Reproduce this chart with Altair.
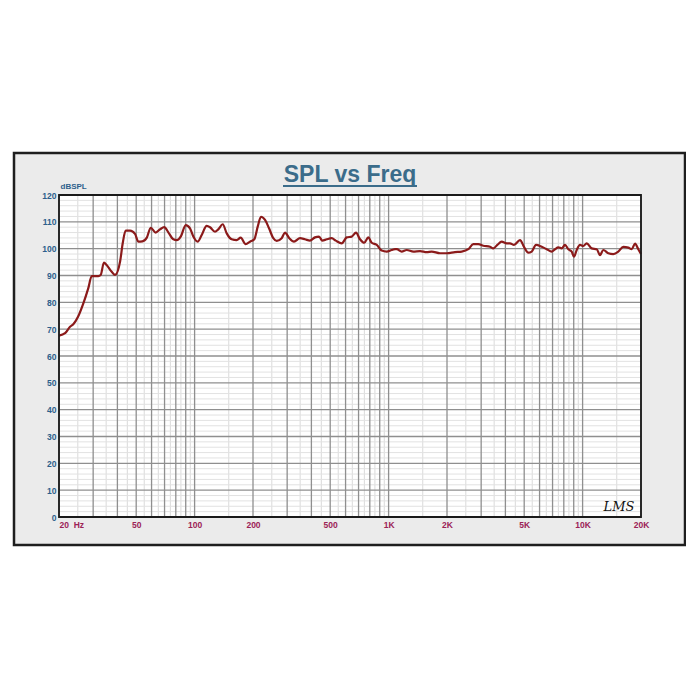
import altair as alt
import pandas as pd

# ---- data ----
freq = [20, 21.5, 22.8, 23.7, 25.1, 26.7, 28.3, 29.5, 31.9, 32.8, 34.1, 35.2, 37.4, 38.9,
        41.3, 42.6, 44.1, 46.5, 49.3, 51.3, 53.8, 56.7, 59.4, 63.0, 66.3, 69.8, 73.2, 77.7,
        80.9, 85.1, 90.0, 94.7, 98.5, 103.7, 108.8, 115.4, 120.1, 127.4, 132.5, 139.6, 146.4,
        155.3, 164.8, 172.9, 183.4, 193.0, 203.1, 211.5, 219.9, 230.7, 241.9, 254.5, 265.0,
        281.1, 292.4, 307.7, 325.4, 349.4, 370.7, 393.3, 417.4, 437.8, 455.3, 479.8, 509.1,
        533.8, 573.3, 608.2, 645.5, 679.2, 712.2, 749.5, 786.0, 818.5, 868.4, 921.4, 977.8,
        1037, 1079, 1101, 1168, 1240, 1341, 1452, 1573, 1668, 1840, 1993, 2199, 2382, 2576,
        2734, 2900, 3078, 3332, 3466, 3634, 3828, 4062, 4224, 4430, 4756, 4988, 5250, 5466,
        5752, 6154, 6530, 6930, 7208, 7496, 7804, 8116, 8440, 8788, 9030, 9326, 9698, 10086,
        10500, 11142, 11820, 12296, 12788, 13568, 14396, 15276, 16210, 17202, 17912, 18628,
        19370, 20000]
spl = [67.6, 68.5, 70.9, 71.8, 74.7, 79.6, 85.2, 89.8, 89.8, 90.2, 94.8, 93.9, 91.4, 90.2,
       95.2, 102.0, 106.7, 106.7, 105.5, 102.6, 102.7, 104.1, 107.8, 106.0, 107.2, 108.0, 106.1,
       103.5, 103.2, 104.7, 108.8, 107.6, 104.5, 102.6, 105.1, 108.5, 108.0, 106.3, 107.2, 109.1,
       105.7, 103.5, 103.2, 104.1, 101.7, 102.6, 103.5, 108.2, 111.9, 110.7, 107.6, 103.9, 102.9,
       103.9, 106.0, 103.9, 102.6, 103.9, 103.5, 103.0, 104.2, 104.5, 103.0, 103.5, 103.9,
       103.0, 102.0, 104.2, 104.5, 106.0, 103.5, 102.2, 104.2, 102.2, 101.4, 99.3, 98.9,
       99.5, 99.8, 99.8, 98.9, 99.5, 98.9, 99.1, 98.7, 98.9, 98.3, 98.3, 98.7, 98.9, 99.8,
       101.7, 101.7, 101.1, 100.7, 100.1, 101.4, 102.6, 102.0, 102.0, 101.4, 103.2, 100.7,
       98.5, 98.9, 101.4, 100.7, 99.8, 98.9, 99.8, 100.5, 100.1, 101.4, 99.8, 98.9, 97.0,
       99.5, 101.4, 101.0, 102.0, 100.1, 99.8, 97.6, 99.5, 98.3, 98.0, 98.9, 100.7, 100.4,
       99.8, 101.9, 99.8, 98.0]

x_major = [20, 30, 40, 50, 60, 70, 80, 90, 100, 200, 300, 400, 500, 600, 700, 800, 900,
           1000, 2000, 3000, 4000, 5000, 6000, 7000, 8000, 9000, 10000, 20000]
x_minor = [25, 35, 45, 55, 65, 75, 85, 95, 150, 250, 350, 450, 550, 650, 750, 850, 950,
           1500, 2500, 3500, 4500, 5500, 6500, 7500, 8500, 9500, 15000]
y_major = [10, 20, 30, 40, 50, 60, 70, 80, 90, 100, 110]
y_minor = [2, 4, 6, 8, 12, 14, 16, 18, 22, 24, 26, 28, 32, 34, 36, 38, 42, 44, 46, 48,
           52, 54, 56, 58, 62, 64, 66, 68, 72, 74, 76, 78, 82, 84, 86, 88, 92, 94, 96, 98,
           102, 104, 106, 108, 112, 114, 116, 118]
x_ticks = [20, 50, 100, 200, 500, 1000, 2000, 5000, 10000, 20000]
y_ticks = [0, 10, 20, 30, 40, 50, 60, 70, 80, 90, 100, 110, 120]

FONT = "Liberation Sans"
BLUE = "#2d5f8c"
MAROON = "#9c2256"
TITLE_BLUE = "#3b6c8a"
LINE = "#8b1a1a"

xs = alt.Scale(type="log", domain=[20, 20000], nice=False)
ys = alt.Scale(domain=[0, 120], nice=False)

AX = alt.Axis(
    values=x_ticks, title="", grid=False, domain=False, ticks=False, zindex=1,
    labelExpr="datum.value == 20 ? '20\u00a0\u00a0Hz' : (datum.value >= 1000 ? (datum.value/1000) + 'K' : datum.value)",
    labelAlign=alt.condition("datum.value == 20", alt.value("left"), alt.value("center")),
    labelColor=MAROON, labelFont=FONT, labelFontSize=8.5, labelFontWeight="bold",
    labelPadding=3, labelFlush=False, labelOverlap=False)
AY = alt.Axis(
    values=y_ticks, grid=False, domain=False, ticks=False, zindex=1,
    labelColor=BLUE, labelFont=FONT, labelFontSize=8.5, labelFontWeight="bold",
    labelPadding=3, labelFlush=False, labelOverlap=False,
    title="dBSPL", titleAngle=0, titleX=1, titleY=-5, titleAlign="left",
    titleBaseline="bottom", titleColor=BLUE, titleFont=FONT, titleFontSize=8,
    titleFontWeight="bold")

one = pd.DataFrame({"k": [0]})
curve = pd.DataFrame({"f": freq, "spl": spl})

outer = alt.Chart(one).mark_rect(fill="#ebebeb", stroke="#1e1e1e", strokeWidth=2.5).encode(
    x=alt.value(-45), x2=alt.value(626), y=alt.value(-42), y2=alt.value(350))

plotbg = alt.Chart(one).mark_rect(fill="white").encode(
    x=alt.datum(20, scale=xs, axis=AX), x2=alt.datum(20000),
    y=alt.datum(0, scale=ys, axis=AY), y2=alt.datum(120))

vminor = alt.Chart(pd.DataFrame({"f": x_minor})).mark_rule(color="#dadada", strokeWidth=1).encode(
    x=alt.X("f:Q", scale=xs, axis=AX), y=alt.datum(0, scale=ys, axis=AY), y2=alt.datum(120))
hminor = alt.Chart(pd.DataFrame({"v": y_minor})).mark_rule(color="#e2e2e2", strokeWidth=1).encode(
    y=alt.Y("v:Q", scale=ys, axis=AY), x=alt.datum(20, scale=xs, axis=AX), x2=alt.datum(20000))
vmajor = alt.Chart(pd.DataFrame({"f": x_major})).mark_rule(color="#8f8f8f", strokeWidth=1.3).encode(
    x=alt.X("f:Q", scale=xs, axis=AX), y=alt.datum(0, scale=ys, axis=AY), y2=alt.datum(120))
hmajor = alt.Chart(pd.DataFrame({"v": y_major})).mark_rule(color="#8f8f8f", strokeWidth=1.3).encode(
    y=alt.Y("v:Q", scale=ys, axis=AY), x=alt.datum(20, scale=xs, axis=AX), x2=alt.datum(20000))

line = alt.Chart(curve).mark_line(color=LINE, strokeWidth=2.2, interpolate="monotone").encode(
    x=alt.X("f:Q", scale=xs, axis=AX),
    y=alt.Y("spl:Q", scale=ys, axis=AY))

frame = alt.Chart(one).mark_rect(fill=None, stroke="#1a1a1a", strokeWidth=1.8).encode(
    x=alt.datum(20, scale=xs, axis=AX), x2=alt.datum(20000),
    y=alt.datum(0, scale=ys, axis=AY), y2=alt.datum(120))

title = alt.Chart(one).mark_text(text="SPL vs Freq", font=FONT, fontSize=23, fontWeight="bold",
                                 color=TITLE_BLUE, align="center", baseline="alphabetic").encode(
    x=alt.value(291), y=alt.value(-13))
underline = alt.Chart(one).mark_rule(color=TITLE_BLUE, strokeWidth=2).encode(
    x=alt.value(224), x2=alt.value(358), y=alt.value(-9))

lms = alt.Chart(one).mark_text(text="LMS", font="DejaVu Serif", fontSize=13, fontStyle="italic",
                               color="#111111", align="center", baseline="alphabetic").encode(
    x=alt.value(560), y=alt.value(316))

chart = alt.layer(outer, plotbg, vminor, hminor, vmajor, hmajor, line, frame, title, underline, lms).properties(
    width=582, height=322,
    autosize=alt.AutoSizeParams(type="none"),
    padding={"left": 51, "top": 187, "right": 45, "bottom": 150},
).configure_view(stroke=None)

chart.save("out.html", embed_options={"renderer": "svg", "actions": False})
